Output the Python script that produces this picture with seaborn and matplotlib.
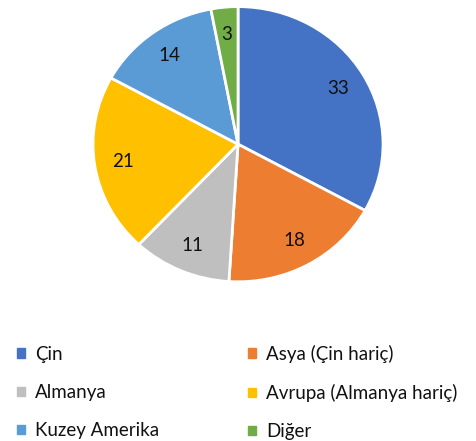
import matplotlib
matplotlib.use("Agg")
import matplotlib.pyplot as plt
import matplotlib.patches as mpatches
import seaborn as sns

# data
regions = ["Çin", "Asya (Çin hariç)", "Almanya", "Avrupa (Almanya hariç)", "Kuzey Amerika", "Diğer"]
shares = [33, 18, 11, 21, 14, 3]
colors = ["#4472C4", "#ED7D31", "#BFBFBF", "#FFC000", "#5B9BD5", "#70AD47"]

sns.set_theme(style="white")
plt.rcParams['font.family'] = ['Lato', 'DejaVu Sans']

fig = plt.figure(figsize=(4.77, 4.41), dpi=100)
ax = fig.add_axes([0.195, 0.361, 0.608, 0.624])

wedges, texts = ax.pie(shares, colors=colors, startangle=90, counterclock=False,
                       labels=[str(v) for v in shares], labeldistance=0.8,
                       wedgeprops=dict(edgecolor="white", linewidth=2))
for t in texts:
    t.set_ha("center")
    t.set_va("center")
    t.set_fontsize(13.5)
    t.set_color("#111111")
ax.set_aspect("auto")
ax.set_xlim(-1, 1)
ax.set_ylim(-1, 1)

# legend, column order: left column first
order = [0, 2, 4, 1, 3, 5]
handles = [mpatches.Patch(color=colors[i], label=regions[i]) for i in order]
leg = fig.legend(handles=handles, ncol=2, loc="upper left",
                 bbox_to_anchor=(0.036, 0.218),
                 frameon=False, fontsize=13.5, handlelength=0.4, handleheight=0.4,
                 handletextpad=0.55, labelspacing=1.13, columnspacing=4.76,
                 borderaxespad=0.0, borderpad=0.0)
for t in leg.get_texts():
    t.set_color("#111111")

fig.savefig("out.png", dpi=100)
